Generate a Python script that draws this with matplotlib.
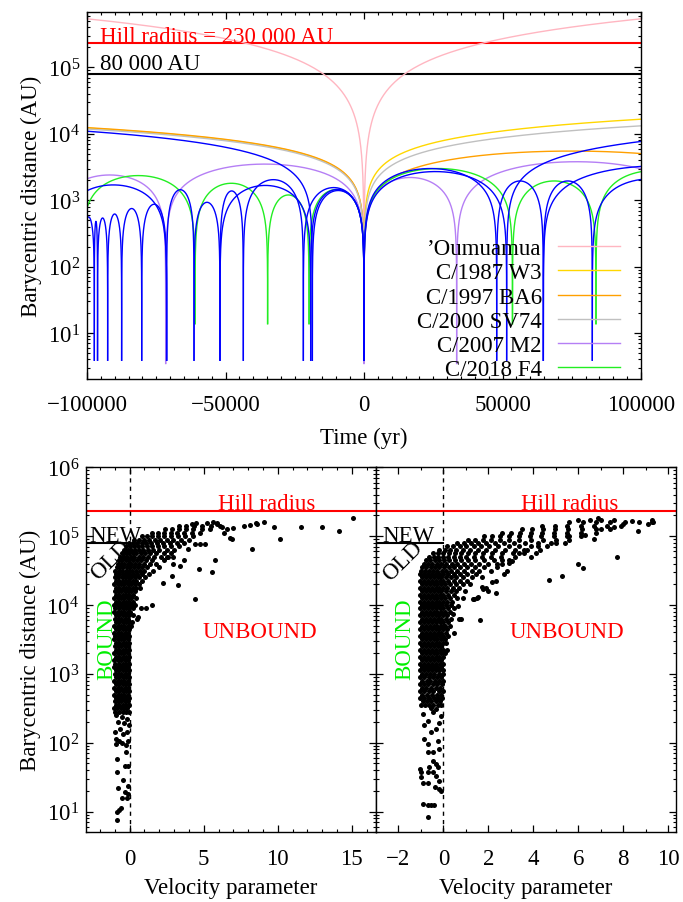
import numpy as np
import matplotlib
matplotlib.use("Agg")
import matplotlib.pyplot as plt
from matplotlib.ticker import MultipleLocator, LogLocator, NullFormatter

# ---------------- data: top panel (orbital arcs: start dip, end dip, peak distance) -------------
HILL_RADIUS = 2.3e5
NEW_OLD_LIMIT = 8.0e4

pink_start = [-2.0e6, 0.0]
pink_end = [0.0, 2.0e6]
pink_peak = [3.45e6, 3.45e6]

yellow_start = [-1.0e6, 0.0]
yellow_end = [0.0, 1.0e6]
yellow_peak = [24700, 33600]

orange_start = [-1.0e6, 0.0]
orange_end = [0.0, 150000]
orange_peak = [25100, 5500]

gray_start = [-1.0e6, 0.0]
gray_end = [0.0, 1.0e6]
gray_peak = [23900, 26700]

purple_start = [-112000, -71600, 0, 33450]
purple_end = [-71600, 0, 33450, 120000]
purple_peak = [2400, 3500, 2200, 3800]

green_start = [-102000, -61000, -34800, -19850, 0, 53600, 83750]
green_end = [-61000, -34800, -19850, 0, 53600, 83750, 126000]
green_peak = [2350, 1800, 1200, 1450, 3000, 1950, 2800]

blue_start = [-618650, -109750, -101500, -97360, -96200, -92550, -87500, -80250,
              -71250, -61370, -52000, -52000, -43570, -21900, -19250, -18650,
              0, 0, 47900, 64740, 82420, 64740, 51500]
blue_end = [-18650, -71250, -97360, -96200, -92550, -87500, -80250, -71250,
            -61370, -52000, -43570, -19250, -21900, 0, 0, 0,
            47900, 51500, 64740, 82420, 125000, 150000, 551500]
blue_peak = [18600, 1700, 560, 480, 540, 620, 750, 870,
             1440, 930, 1380, 1670, 2040, 1550, 1450, 1400,
             3000, 2700, 1950, 1950, 2100, 3300, 15800]

legend_labels = ["\u2019Oumuamua", "C/1987 W3", "C/1997 BA6", "C/2000 SV74", "C/2007 M2", "C/2018 F4"]

# ---------------- data: bottom panels (velocity parameter, log10 distance) -------------
left_rows = [
    (2.45, (-0.98, -0.72, -0.48, -0.25, -0.06)), (2.50, (-1.04, -0.84, -0.6, -0.36, -0.15)),
    (2.55, (-0.93, -0.7, -0.46, -0.24, -0.04)), (2.60, (-1.02, -0.8, -0.57, -0.34, -0.12)),
    (2.65, (-0.94, -0.68, -0.45, -0.22, -0.03)), (2.70, (-1.05, -0.82, -0.58, -0.35, -0.14)),
    (2.75, (-0.95, -0.72, -0.48, -0.25, -0.05)), (2.80, (-1.03, -0.8, -0.56, -0.33, -0.12)),
    (2.85, (-0.92, -0.69, -0.45, -0.23, -0.04)), (2.90, (-1.04, -0.81, -0.58, -0.35, -0.13)),
    (2.95, (-0.95, -0.71, -0.47, -0.26, -0.06)), (3.00, (-1.02, -0.79, -0.56, -0.33, -0.11)),
    (3.05, (-0.93, -0.7, -0.46, -0.24, -0.03)), (3.10, (-1.05, -0.82, -0.59, -0.36, -0.14)),
    (3.15, (-0.96, -0.72, -0.48, -0.25, -0.05)), (3.20, (-1.03, -0.8, -0.57, -0.34, -0.12)),
    (3.25, (-0.94, -0.7, -0.46, -0.23, -0.04)), (3.30, (-1.04, -0.81, -0.58, -0.35, -0.13)),
    (3.35, (-0.95, -0.71, -0.47, -0.25, -0.05)), (3.40, (-1.02, -0.79, -0.56, -0.33, -0.11)),
    (3.45, (-0.93, -0.69, -0.46, -0.24, -0.03)), (3.50, (-1.05, -0.82, -0.59, -0.36, -0.14)),
    (3.55, (-0.96, -0.72, -0.48, -0.25, -0.05)), (3.60, (-1.03, -0.8, -0.57, -0.34, -0.12)),
    (3.65, (-0.94, -0.7, -0.46, -0.23, -0.03)), (3.70, (-1.04, -0.81, -0.58, -0.35, -0.13, 0.08)),
    (3.75, (-0.95, -0.71, -0.47, -0.25, -0.05, 0.15)), (3.80, (-1.02, -0.79, -0.56, -0.33, -0.11)),
    (3.85, (-0.93, -0.69, -0.46, -0.24, -0.03, 0.2)), (3.90, (-1.05, -0.82, -0.59, -0.36, -0.14, 0.05)),
    (3.95, (-0.96, -0.72, -0.48, -0.25, -0.05, 0.22)), (4.00, (-1.03, -0.8, -0.57, -0.34, -0.12, 0.1, 0.35)),
    (4.05, (-0.94, -0.7, -0.46, -0.23, -0.03, 0.2)), (4.10, (-1.04, -0.81, -0.58, -0.35, -0.13, 0.1, 0.4)),
    (4.15, (-0.95, -0.71, -0.47, -0.25, -0.05, 0.2)),
    (4.20, (-1.02, -0.79, -0.56, -0.33, -0.11, 0.12, 0.38)),
    (4.25, (-0.93, -0.69, -0.46, -0.24, -0.03, 0.2, 0.45, 0.7)),
    (4.30, (-1.04, -0.81, -0.58, -0.35, -0.13, 0.1, 0.35, 0.6)),
    (4.35, (-0.95, -0.71, -0.47, -0.25, -0.05, 0.2, 0.45, 0.8)),
    (4.40, (-1.0, -0.78, -0.55, -0.32, -0.1, 0.12, 0.38, 0.65, 1.05)),
    (4.45, (-0.92, -0.7, -0.46, -0.24, -0.02, 0.22, 0.5, 0.8, 1.3)),
    (4.50, (-0.96, -0.74, -0.5, -0.28, -0.05, 0.18, 0.42, 0.7, 1.0, 1.6)),
    (4.55, (-0.88, -0.65, -0.42, -0.2, 0.03, 0.28, 0.55, 0.85, 1.2, 2.0)),
    (4.60, (-0.8, -0.57, -0.35, -0.12, 0.12, 0.38, 0.66, 0.98, 1.35, 1.8)),
    (4.65, (-0.72, -0.5, -0.27, -0.04, 0.2, 0.47, 0.76, 1.08, 1.5, 2.3)),
    (4.70, (-0.62, -0.4, -0.17, 0.07, 0.32, 0.6, 0.9, 1.25, 1.65, 2.1, 2.5)),
    (4.75, (-0.5, -0.28, -0.05, 0.2, 0.46, 0.74, 1.05, 1.4, 1.8, 2.3, 2.8)),
    (4.80, (-0.38, -0.14, 0.1, 0.35, 0.62, 0.92, 1.25, 1.6, 2.0, 2.5, 3.0)),
    (4.85, (-0.22, 0.03, 0.28, 0.55, 0.84, 1.15, 1.5, 1.9, 2.35, 2.8, 3.3)),
    (4.90, (-0.05, 0.22, 0.5, 0.8, 1.12, 1.46, 1.84, 2.25, 2.7, 3.2, 3.7)),
    (4.95, (0.3, 0.62, 0.95, 1.3, 1.68, 2.08, 2.5, 2.95, 3.45, 4.0)),
    (5.00, (0.8, 1.15, 1.52, 1.92, 2.34, 2.78, 3.25, 3.75, 4.3)),
    (5.05, (1.5, 1.9, 2.32, 2.76, 3.22, 3.7, 4.2, 4.75)),
    (5.10, (2.4, 2.85, 3.32, 3.8, 4.3, 4.85, 5.4)),
    (5.15, (3.3, 3.8, 4.35, 4.9, 5.5, 6.1)),
    (5.19, (4.5, 5.2, 5.9)),
]
left_tail = [(-0.95, 2.40), (-0.5, 2.38), (-0.2, 2.35), (-0.8, 2.30), (-0.35, 2.28), (-0.05, 2.25),
             (-0.65, 2.20), (-1.0, 2.15), (-0.15, 2.15), (-0.45, 2.12), (-0.9, 2.05), (-0.7, 2.02),
             (-0.55, 2.00), (-0.1, 2.03), (-0.25, 1.97), (-0.95, 1.98), (-0.22, 1.86), (-0.83, 1.76),
             (-0.83, 1.58), (-0.32, 1.66), (-0.11, 1.66), (-0.42, 1.46), (-0.79, 1.34), (-0.11, 1.37),
             (-0.3, 1.28), (-0.2, 1.20), (-0.49, 1.20), (-0.56, 1.05), (-0.7, 1.02), (-0.83, 1.00),
             (-0.87, 0.88), (-0.12, 1.25)]
left_outliers = [(15.1, 5.27), (13.0, 5.14), (14.1, 5.08), (11.55, 5.13), (10.15, 4.955), (9.75, 5.14),
                 (9.08, 5.21), (8.54, 5.19), (8.6, 5.18), (8.1, 5.16), (7.7, 5.15), (7.0, 5.12),
                 (8.25, 4.82), (6.8, 4.98), (6.9, 4.96), (6.23, 5.14), (6.35, 5.04), (5.74, 4.66),
                 (5.56, 4.48), (4.66, 4.52), (4.39, 4.09), (5.11, 4.89), (4.78, 4.89), (4.44, 4.89),
                 (3.92, 4.82), (3.7, 4.65), (3.38, 4.57), (3.25, 4.29), (2.87, 4.42), (2.94, 4.59),
                 (2.94, 4.69), (2.6, 4.69), (2.24, 4.32), (1.52, 4.00), (1.08, 3.95), (0.78, 3.95),
                 (0.47, 3.79), (0.55, 3.83), (5.6, 5.20), (5.9, 5.17), (4.2, 5.17), (6.6, 5.10)]

right_rows = [
    (2.55, (-1.0, -0.82, -0.62, -0.45, -0.25, -0.1)), (2.60, (-0.92, -0.72, -0.55, -0.35, -0.15)),
    (2.65, (-1.03, -0.85, -0.65, -0.4, -0.22, -0.05)), (2.70, (-0.95, -0.75, -0.5, -0.3, -0.12)),
    (2.75, (-1.05, -0.88, -0.62, -0.45, -0.2, -0.04)), (2.80, (-0.97, -0.78, -0.55, -0.35, -0.15)),
    (2.85, (-1.05, -0.85, -0.68, -0.48, -0.28, -0.08)), (2.90, (-0.95, -0.75, -0.58, -0.38, -0.2, -0.03)),
    (2.95, (-1.04, -0.86, -0.66, -0.47, -0.28, -0.1)), (3.00, (-0.96, -0.78, -0.58, -0.4, -0.2, -0.03)),
    (3.05, (-1.05, -0.88, -0.7, -0.52, -0.35, -0.18, -0.02)), (3.10, (-0.97, -0.79, -0.61, -0.44, -0.27, -0.1)),
    (3.15, (-1.04, -0.87, -0.69, -0.51, -0.34, -0.17, 0.0)), (3.20, (-0.96, -0.78, -0.6, -0.43, -0.26, -0.09)),
    (3.25, (-1.05, -0.88, -0.7, -0.52, -0.35, -0.18, -0.02)), (3.30, (-0.97, -0.79, -0.61, -0.44, -0.27, -0.1, 0.08)),
    (3.35, (-1.04, -0.87, -0.69, -0.51, -0.34, -0.17, 0.0)), (3.40, (-0.96, -0.78, -0.6, -0.43, -0.26, -0.09)),
    (3.45, (-1.05, -0.88, -0.7, -0.52, -0.35, -0.18, -0.02, 0.12)),
    (3.50, (-0.97, -0.79, -0.61, -0.44, -0.27, -0.1, 0.08)),
    (3.55, (-1.04, -0.87, -0.69, -0.51, -0.34, -0.17, 0.0, 0.2)),
    (3.60, (-0.96, -0.78, -0.6, -0.43, -0.26, -0.09, 0.1)),
    (3.65, (-1.05, -0.88, -0.7, -0.52, -0.35, -0.18, -0.02, 0.15)),
    (3.70, (-0.97, -0.79, -0.61, -0.44, -0.27, -0.1, 0.08, 0.3)),
    (3.75, (-1.04, -0.87, -0.69, -0.51, -0.34, -0.17, 0.0, 0.2)),
    (3.80, (-0.96, -0.78, -0.6, -0.43, -0.26, -0.09, 0.1, 0.35)),
    (3.85, (-1.05, -0.88, -0.7, -0.52, -0.35, -0.18, -0.02, 0.18)),
    (3.90, (-0.97, -0.79, -0.61, -0.44, -0.27, -0.1, 0.08, 0.3)),
    (3.95, (-1.04, -0.87, -0.69, -0.51, -0.34, -0.17, 0.0, 0.2, 0.45)),
    (4.00, (-0.96, -0.78, -0.6, -0.43, -0.26, -0.09, 0.1, 0.32)),
    (4.05, (-1.05, -0.88, -0.7, -0.52, -0.35, -0.18, -0.02, 0.18, 0.4)),
    (4.10, (-0.97, -0.79, -0.61, -0.44, -0.27, -0.1, 0.08, 0.3, 0.6, 0.85)),
    (4.15, (-1.04, -0.87, -0.69, -0.51, -0.34, -0.17, 0.0, 0.2, 0.45)),
    (4.20, (-0.96, -0.78, -0.6, -0.43, -0.26, -0.09, 0.1, 0.32, 0.58, 0.95)),
    (4.25, (-1.05, -0.88, -0.7, -0.52, -0.35, -0.18, -0.02, 0.18, 0.42, 0.7)),
    (4.30, (-0.97, -0.79, -0.61, -0.44, -0.27, -0.1, 0.08, 0.3, 0.55, 0.85, 1.2)),
    (4.35, (-1.04, -0.87, -0.69, -0.51, -0.34, -0.17, 0.0, 0.2, 0.45, 0.75, 1.05)),
    (4.40, (-0.96, -0.78, -0.6, -0.43, -0.26, -0.09, 0.1, 0.32, 0.58, 0.88, 1.25, 1.7)),
    (4.45, (-1.05, -0.88, -0.7, -0.52, -0.35, -0.18, 0.0, 0.2, 0.45, 0.75, 1.05, 1.45)),
    (4.50, (-1.0, -0.82, -0.63, -0.45, -0.27, -0.08, 0.12, 0.35, 0.6, 0.9, 1.25, 1.6, 2.1)),
    (4.55, (-0.95, -0.76, -0.57, -0.38, -0.19, 0.01, 0.23, 0.47, 0.74, 1.05, 1.4, 1.8, 2.4)),
    (4.60, (-0.87, -0.68, -0.49, -0.3, -0.1, 0.12, 0.36, 0.62, 0.9, 1.22, 1.58, 2.0, 2.6)),
    (4.65, (-0.78, -0.58, -0.38, -0.18, 0.03, 0.26, 0.51, 0.78, 1.08, 1.42, 1.8, 2.25, 2.9)),
    (4.70, (-0.65, -0.44, -0.23, -0.02, 0.21, 0.46, 0.73, 1.02, 1.34, 1.7, 2.1, 2.55, 3.2)),
    (4.75, (-0.45, -0.23, 0.0, 0.24, 0.5, 0.78, 1.08, 1.4, 1.76, 2.15, 2.6, 3.1, 3.6, 4.1)),
    (4.80, (-0.18, 0.06, 0.31, 0.58, 0.87, 1.18, 1.52, 1.88, 2.28, 2.72, 3.2, 3.7, 4.3)),
    (4.85, (0.18, 0.44, 0.72, 1.02, 1.34, 1.68, 2.05, 2.45, 2.9, 3.38, 3.9, 4.6)),
    (4.90, (0.6, 0.9, 1.21, 1.54, 1.9, 2.28, 2.7, 3.15, 3.64, 4.2, 4.8, 5.4)),
    (4.95, (1.1, 1.42, 1.76, 2.12, 2.5, 2.92, 3.38, 3.88, 4.42, 5.0, 5.6)),
    (5.00, (1.8, 2.15, 2.52, 2.92, 3.36, 3.84, 4.36, 4.92, 5.5, 6.1)),
    (5.05, (2.6, 3.0, 3.42, 3.88, 4.38, 4.92, 5.5, 6.1, 6.8)),
    (5.10, (3.5, 3.95, 4.45, 4.98, 5.55, 6.15, 6.8, 7.4)),
    (5.15, (4.4, 4.95, 5.5, 6.1, 6.7, 7.3, 7.9)),
    (5.20, (5.6, 6.2, 6.8, 7.4, 8.1, 8.7, 9.3)),
    (5.24, (6.5, 7.0, 7.6)),
]
right_tail = [(-0.55, 2.51), (-0.33, 2.49), (-0.48, 2.44), (-0.1, 2.39), (-0.92, 2.42),
              (-0.85, 2.25), (-0.33, 2.20), (-0.55, 2.15), (-0.18, 2.29), (-0.7, 2.32),
              (-0.85, 2.05), (-0.7, 1.98), (-0.25, 2.03), (-0.48, 1.86), (-0.7, 1.86), (-0.18, 1.91),
              (-0.48, 1.74), (-0.33, 1.69), (-0.25, 1.64), (-0.625, 1.64), (-1.04, 1.62), (-1.0, 1.58),
              (-0.7, 1.57), (-0.48, 1.57), (-0.33, 1.52), (-1.0, 1.50), (-0.7, 1.42), (-0.18, 1.45),
              (-0.92, 1.42), (-0.18, 1.33), (-0.36, 1.35), (-0.1, 1.30), (-0.92, 1.11), (-0.7, 1.09),
              (-0.55, 1.09), (-0.4, 1.10), (-0.7, 0.925)]
right_outliers = [(7.71, 4.70), (5.97, 4.59), (6.22, 4.54), (4.70, 4.36), (5.27, 4.42), (6.71, 4.96),
                  (8.65, 5.08), (9.32, 5.20), (9.09, 5.18), (1.64, 3.78), (0.80, 3.79), (0.42, 3.87),
                  (1.35, 4.08), (1.5, 4.10), (1.73, 4.26), (1.88, 4.24), (2.17, 4.33), (2.35, 4.35),
                  (2.69, 4.45), (2.81, 4.49), (2.92, 4.61), (3.07, 4.64), (3.36, 4.76), (2.62, 4.66),
                  (2.37, 4.59), (2.32, 4.18), (1.98, 4.20), (1.76, 4.23), (1.53, 4.12), (1.31, 4.08),
                  (0.49, 3.60), (0.04, 3.70), (0.15, 3.35), (0.64, 3.99), (0.7, 3.80), (3.6, 4.80),
                  (4.2, 4.85), (3.9, 4.70), (5.0, 4.90), (5.6, 5.00), (6.3, 5.02), (7.0, 5.10),
                  (7.6, 5.13), (8.0, 5.18), (8.4, 5.22), (9.3, 5.23), (6.0, 5.23), (6.9, 5.26)]

# ---------------- styling ----------------
plt.rcParams.update({
    "font.family": ["Liberation Serif", "DejaVu Serif"],
    "mathtext.fontset": "custom",
    "mathtext.rm": "Liberation Serif",
    "mathtext.it": "Liberation Serif:italic",
    "mathtext.bf": "Liberation Serif:bold",
    "font.size": 16.5,
    "axes.linewidth": 1.0,
    "xtick.direction": "in", "ytick.direction": "in",
    "xtick.top": True, "ytick.right": True,
    "xtick.major.size": 5, "ytick.major.size": 5,
    "xtick.minor.size": 2.5, "ytick.minor.size": 2.5,
    "xtick.major.width": 0.9, "ytick.major.width": 0.9,
    "xtick.minor.width": 0.8, "ytick.minor.width": 0.8,
    "xtick.major.pad": 11, "ytick.major.pad": 5,
})

C_PINK = "#ffb6c1"
C_YELLOW = "#ffd700"
C_ORANGE = "#ffa000"
C_GRAY = "#c0c0c0"
C_PURPLE = "#b57ff5"
C_GREEN = "#22ee22"
C_BLUE = "#0000ff"


def arc_curve(t0, t1, peak, q, alpha, n=4000):
    u = np.linspace(0.0, 1.0, n)
    p = 0.5 - 0.5 * np.cos(np.pi * u)
    t = t0 + (t1 - t0) * p
    r = q + (peak - q) * np.abs(np.sin(np.pi * p)) ** alpha
    return t, r


def draw_arcs(ax, starts, ends, peaks, color, q, alpha=0.6, lw=1.0):
    for t0, t1, pk in zip(starts, ends, peaks):
        t, r = arc_curve(t0, t1, pk, q, alpha)
        ax.plot(t, r, color=color, lw=lw, solid_capstyle="butt")


def log_axis(ax):
    ax.yaxis.set_major_locator(LogLocator(base=10, numticks=20))
    ax.yaxis.set_minor_locator(LogLocator(base=10, subs=np.arange(2, 10), numticks=20))
    ax.yaxis.set_minor_formatter(NullFormatter())


fig = plt.figure(figsize=(6.83, 9.03), dpi=100)

# ---------------- top panel ----------------
ax = fig.add_axes([0.1274, 0.5792, 0.8111, 0.4067])
ax.set_yscale("log")
ax.axhline(HILL_RADIUS, color="#ff0000", lw=1.5, zorder=1)
ax.axhline(NEW_OLD_LIMIT, color="black", lw=1.5, zorder=1)

draw_arcs(ax, pink_start, pink_end, pink_peak, C_PINK, 3.6, alpha=1.0)
draw_arcs(ax, yellow_start, yellow_end, yellow_peak, C_YELLOW, 3.6)
draw_arcs(ax, orange_start, orange_end, orange_peak, C_ORANGE, 3.6)
draw_arcs(ax, gray_start, gray_end, gray_peak, C_GRAY, 3.6)
draw_arcs(ax, purple_start, purple_end, purple_peak, C_PURPLE, 3.4)
draw_arcs(ax, green_start, green_end, green_peak, C_GREEN, 13.5)
draw_arcs(ax, blue_start, blue_end, blue_peak, C_BLUE, 3.8)

ax.set_xlim(-1.0e5, 1.0e5)
ax.set_ylim(2.03, 6.9e5)
ax.xaxis.set_major_locator(MultipleLocator(50000))
ax.xaxis.set_minor_locator(MultipleLocator(5000))
log_axis(ax)
ax.set_xlabel("Time (yr)", labelpad=8)
ax.set_ylabel("Barycentric distance (AU)", labelpad=4)

ax.text(-95300, 2.42e5, "Hill radius = 230 000 AU", color="#ff0000", ha="left", va="baseline")
ax.text(-95300, 9.4e4, "80 000 AU", color="black", ha="left", va="baseline")

# legend (gnuplot style: right aligned text followed by line sample)
leg_colors = [C_PINK, C_YELLOW, C_ORANGE, C_GRAY, C_PURPLE, C_GREEN]
row_px = [247.5, 271.5, 295.6, 319.7, 343.7, 367.8]
for lab, col, ypx in zip(legend_labels, leg_colors, row_px):
    yf = (380.0 - ypx) / 367.0
    yb = (380.0 - ypx - 8.0) / 367.0
    ax.text(0.821, yb, lab, transform=ax.transAxes, ha="right", va="baseline")
    ax.plot([0.850, 0.962], [yf, yf], transform=ax.transAxes, color=col, lw=1.0)

# ---------------- bottom panels ----------------
axL = fig.add_axes([0.1259, 0.0772, 0.4246, 0.4042])
axR = fig.add_axes([0.5505, 0.0772, 0.4393, 0.4042], sharey=axL)


def flatten(rows, tail, outl):
    v = [x for lr, vals in rows for x in vals] + [p[0] for p in tail] + [p[0] for p in outl]
    lr = [lr for lr, vals in rows for _ in vals] + [p[1] for p in tail] + [p[1] for p in outl]
    return np.array(v), 10.0 ** np.array(lr)


for axb, rows, tail, outl, xlim, major, new_v, old_pos, bound_pos, unb_pos, hill_v in [
    (axL, left_rows, left_tail, left_outliers, (-2.95, 16.63), 5, -2.72, (-1.3, 4.66), (-1.56, 3.51), (8.8, 3.61), 9.23),
    (axR, right_rows, right_tail, right_outliers, (-3.0, 10.35), 2, -2.72, (-1.79, 4.64), (-1.74, 3.51), (5.49, 3.61), 5.63),
]:
    v, r = flatten(rows, tail, outl)
    axb.set_yscale("log")
    axb.axhline(HILL_RADIUS, color="#ff0000", lw=1.5, zorder=1)
    axb.axvline(0.0, color="black", lw=1.0, ls=(0, (3, 3)), zorder=1)
    axb.plot([xlim[0], 0.0], [NEW_OLD_LIMIT, NEW_OLD_LIMIT], color="black", lw=1.5, zorder=1)
    axb.scatter(v, r, s=13, c="black", linewidths=0, zorder=3)
    axb.set_xlim(*xlim)
    axb.set_ylim(5.0, 1.0e6)
    axb.xaxis.set_major_locator(MultipleLocator(major))
    axb.xaxis.set_minor_locator(MultipleLocator(1))
    log_axis(axb)
    axb.set_xlabel("Velocity parameter", labelpad=6)
    axb.text(hill_v, 2.48e5, "Hill radius", color="#ff0000", ha="center", va="baseline")
    axb.text(new_v, 8.5e4, "NEW", color="black", ha="left", va="baseline")
    axb.text(old_pos[0], 10 ** old_pos[1], "OLD", color="black", ha="center", va="center", rotation=45)
    axb.text(bound_pos[0], 10 ** bound_pos[1], "BOUND", color="#00ee00", ha="center", va="center", rotation=90)
    axb.text(unb_pos[0], 10 ** unb_pos[1], "UNBOUND", color="#ff0000", ha="center", va="center")

axL.set_ylabel("Barycentric distance (AU)", labelpad=4)
axR.tick_params(labelleft=False)

fig.savefig("out.png", dpi=100)
